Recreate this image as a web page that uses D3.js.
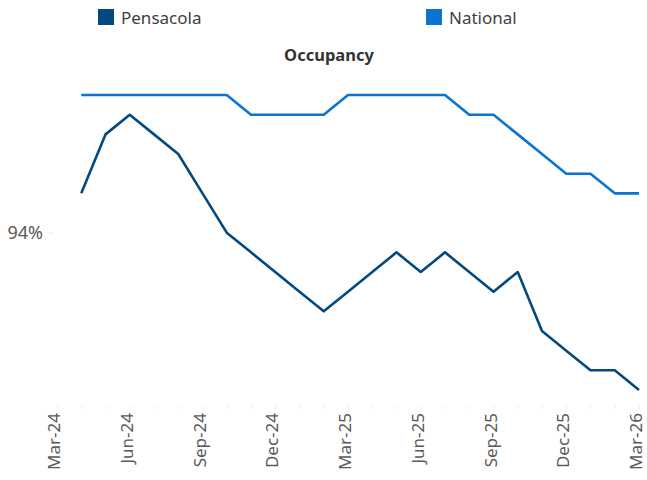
<!DOCTYPE html>
<html>
<head>
<meta charset="utf-8">
<script src="https://cdn.jsdelivr.net/npm/d3@7"></script>
<style>
  body { margin: 0; background: #fff; }
  svg { display: block; font-family: "Noto Sans", "Open Sans", sans-serif; }
</style>
</head>
<body>
<div id="chart"></div>
<script>
// Data
const axisMonths = ['Mar-24', 'Apr-24', 'May-24', 'Jun-24', 'Jul-24', 'Aug-24', 'Sep-24', 'Oct-24', 'Nov-24',
    'Dec-24', 'Jan-25', 'Feb-25', 'Mar-25', 'Apr-25', 'May-25', 'Jun-25', 'Jul-25', 'Aug-25', 'Sep-25',
    'Oct-25', 'Nov-25', 'Dec-25', 'Jan-26', 'Feb-26', 'Mar-26'];
const dataMonths = axisMonths.slice(1);
const tickLabels = ['Mar-24', 'Jun-24', 'Sep-24', 'Dec-24', 'Mar-25', 'Jun-25', 'Sep-25', 'Dec-25', 'Mar-26'];
const pensacola = [94.2, 94.5, 94.6, 94.5, 94.4, 94.2, 94.0, 93.9, 93.8, 93.7, 93.6, 93.7,
    93.8, 93.9, 93.8, 93.9, 93.8, 93.7, 93.8, 93.5, 93.4, 93.3, 93.3, 93.2];
const national = [94.7, 94.7, 94.7, 94.7, 94.7, 94.7, 94.7, 94.6, 94.6, 94.6, 94.6, 94.7,
    94.7, 94.7, 94.7, 94.7, 94.6, 94.6, 94.5, 94.4, 94.3, 94.3, 94.2, 94.2];
const yTicks = [94];

const series = [
    { name: 'Pensacola', values: pensacola, color: '#03497F', legendX: 98 },
    { name: 'National', values: national, color: '#0A74D0', legendX: 426 }
];

const width = 647;
const height = 480;

const svg = d3.select('#chart')
    .append('svg')
    .attr('width', width)
    .attr('height', height);

// Scales
const xScale = d3.scalePoint()
    .domain(axisMonths)
    .range([57, 639]);

const yScale = d3.scaleLinear()
    .domain([93.12, 94.8])
    .range([405.7, 75.4]);

// Legend
series.forEach(s => {
    svg.append('rect')
        .attr('x', s.legendX)
        .attr('y', 9)
        .attr('width', 16)
        .attr('height', 16)
        .style('fill', s.color);
    svg.append('text')
        .attr('x', s.legendX + 23)
        .attr('y', 24)
        .style('font-size', '17px')
        .style('fill', '#404040')
        .text(s.name);
});

// Title
svg.append('text')
    .attr('x', 329)
    .attr('y', 61)
    .attr('text-anchor', 'middle')
    .style('font-size', '16.5px')
    .style('font-weight', 'bold')
    .style('fill', '#333')
    .text('Occupancy');

// Y axis (single labelled tick, no line)
const yAxis = svg.append('g')
    .attr('transform', 'translate(53,0)')
    .call(d3.axisLeft(yScale)
        .tickValues(yTicks)
        .tickSize(4)
        .tickPadding(6)
        .tickFormat(d => d + '%'));
yAxis.select('.domain').remove();
yAxis.selectAll('line').style('stroke', '#e8e8e8');
yAxis.selectAll('text')
    .style('font-family', '"Noto Sans", "Open Sans", sans-serif')
    .style('font-size', '18px')
    .style('fill', '#595959');

// X axis: faint monthly ticks
const xAxis = svg.append('g')
    .attr('transform', 'translate(0,409)')
    .call(d3.axisBottom(xScale).tickSize(-3).tickFormat(''));
xAxis.select('.domain').remove();
xAxis.selectAll('line').style('stroke', '#ececec');

// Quarterly rotated labels
svg.append('g')
    .selectAll('text')
    .data(tickLabels)
    .join('text')
    .attr('transform', d => `translate(${xScale(d) + 3},413) rotate(-90)`)
    .attr('text-anchor', 'end')
    .style('font-size', '17px')
    .style('fill', '#595959')
    .text(d => d);

// Lines
const line = d3.line()
    .x((d, i) => xScale(dataMonths[i]))
    .y(d => yScale(d));

series.forEach(s => {
    svg.append('path')
        .datum(s.values)
        .attr('d', line)
        .style('fill', 'none')
        .style('stroke', s.color)
        .style('stroke-width', 2.6)
        .style('stroke-linejoin', 'round');
});
</script>
</body>
</html>
